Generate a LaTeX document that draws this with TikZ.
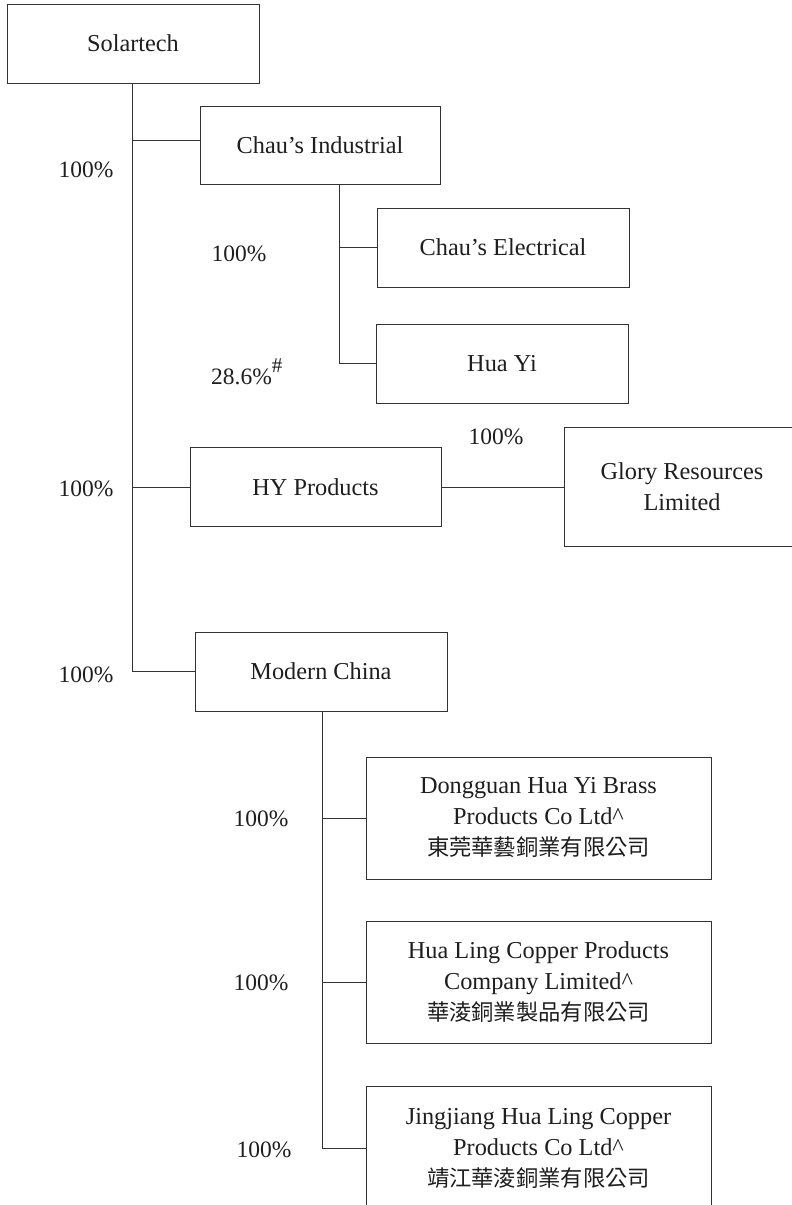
\documentclass[tikz,border=0pt]{standalone}
\usepackage{fontspec}
\setmainfont{Liberation Serif}
\newfontfamily\cjk{Noto Sans CJK TC}
\definecolor{linec}{HTML}{333333}
\definecolor{textc}{HTML}{1E1E1E}
\tikzset{
  entity/.style={draw=linec, line width=1pt, rectangle, inner sep=0pt, align=center,
    text=textc, font=\fontsize{24.3}{31}\selectfont},
  pct/.style={text=textc, inner sep=0pt, font=\fontsize{23.5}{26}\selectfont},
  link/.style={draw=linec, line width=1pt}
}
\newcommand{\cjktext}[1]{{\cjk\fontsize{22.3}{31}\selectfont #1}}
\begin{document}
\begin{tikzpicture}[x=1pt,y=-1pt]
\useasboundingbox (0,0) rectangle (792,1205);
% boxes
\node[entity, minimum width=252, minimum height=79] (sol) at (133,43.5) {Solartech};
\node[entity, minimum width=240, minimum height=78] (ci) at (320,145) {Chau’s Industrial};
\node[entity, minimum width=252, minimum height=79] (ce) at (503,247.5) {Chau’s Electrical};
\node[entity, minimum width=252, minimum height=79] (hya) at (502,363.5) {Hua Yi};
\node[entity, minimum width=251, minimum height=79] (hy) at (315.5,487) {HY Products};
\node[entity, minimum width=236, minimum height=119] (gl) at (682,487) {Glory Resources\\Limited};
\node[entity, minimum width=252, minimum height=79] (mc) at (321,671.5) {Modern China};
\node[entity, minimum width=345, minimum height=122] (dg) at (538.5,818) {Dongguan Hua Yi Brass\\Products Co Ltd\textasciicircum\\\cjktext{東莞華藝銅業有限公司}};
\node[entity, minimum width=345, minimum height=122] (hl) at (538.5,982) {Hua Ling Copper Products\\Company Limited\textasciicircum\\\cjktext{華淩銅業製品有限公司}};
\node[entity, minimum width=345, minimum height=124] (jj) at (538.5,1148) {Jingjiang Hua Ling Copper\\Products Co Ltd\textasciicircum\\\cjktext{靖江華淩銅業有限公司}};
% connectors
\coordinate (solT) at (132,83);
\coordinate (ciT) at (339,184);
\coordinate (mcT) at (322,711);
\draw[link] (solT) |- ([yshift=5pt]ci.west);
\draw[link] (solT) |- (hy.west);
\draw[link] (solT) |- (mc.west);
\draw[link] (ciT) |- (ce.west);
\draw[link] (ciT) |- (hya.west);
\draw[link] (hy.east) -- (gl.west);
\draw[link] (mcT) |- (dg.west);
\draw[link] (mcT) |- (hl.west);
\draw[link] (mcT) |- (jj.west);
% percentages
\node[pct] (p1) at (86,170) {100\%};
\node[pct] (p2) at (239,254) {100\%};
\node[pct, anchor=base west] (p3) at (211,384) {28.6\%\raisebox{12pt}{\fontsize{21}{21}\selectfont\#}};
\node[pct] (p4) at (496,437) {100\%};
\node[pct] (p5) at (86,489) {100\%};
\node[pct] (p6) at (86,675) {100\%};
\node[pct] (p7) at (261,819) {100\%};
\node[pct] (p8) at (261,983) {100\%};
\node[pct] (p9) at (264,1150) {100\%};
\end{tikzpicture}
\end{document}
